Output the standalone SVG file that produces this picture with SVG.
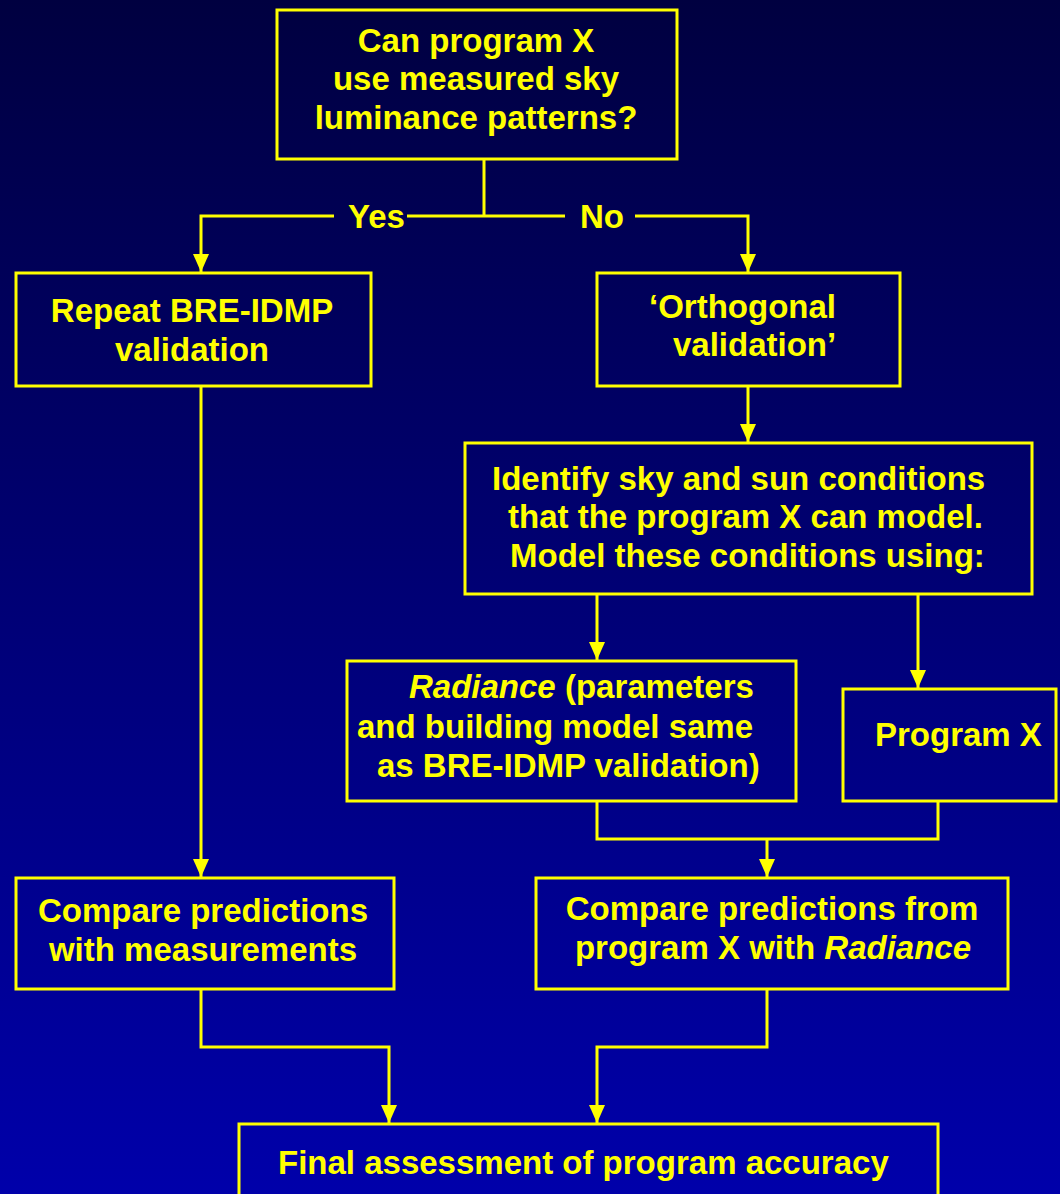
<svg xmlns="http://www.w3.org/2000/svg" width="1060" height="1194" viewBox="0 0 1060 1194">
  <defs>
    <linearGradient id="bg" x1="0" y1="0" x2="0" y2="1">
      <stop offset="0" stop-color="#000040"/>
      <stop offset="1" stop-color="#0000AA"/>
    </linearGradient>
    <marker id="arr" viewBox="0 0 18 16" refX="18" refY="8" markerWidth="18" markerHeight="16" orient="auto" markerUnits="userSpaceOnUse">
      <path d="M0,0 L18,8 L0,16 z" fill="#FFFF00"/>
    </marker>
    <style>
      .box { fill: none; stroke: #FFFF00; stroke-width: 3; }
      .t { font-family: "Liberation Sans", Arial, Helvetica, sans-serif; font-weight: bold; font-size: 33px; fill: #FFFF00; }
      .c { text-anchor: middle; }
      .i { font-style: italic; }
      .ln { fill: none; stroke: #FFFF00; stroke-width: 3; }
    </style>
  </defs>
  <rect x="0" y="0" width="1060" height="1194" fill="url(#bg)"/>

  <g id="connectors">
    <path class="ln" d="M484,159 L484,216"/>
    <path class="ln" d="M484,216 L407,216"/>
    <path class="ln" d="M334,216 L201,216 L201,272" marker-end="url(#arr)"/>
    <path class="ln" d="M484,216 L565,216"/>
    <path class="ln" d="M635,216 L748,216 L748,272" marker-end="url(#arr)"/>
    <text class="t" x="348" y="228">Yes</text>
    <text class="t" x="580" y="228">No</text>
    <path class="ln" d="M201,386 L201,877" marker-end="url(#arr)"/>
    <path class="ln" d="M748,386 L748,442" marker-end="url(#arr)"/>
    <path class="ln" d="M597,594 L597,660" marker-end="url(#arr)"/>
    <path class="ln" d="M918,594 L918,688" marker-end="url(#arr)"/>
    <path class="ln" d="M597,801 L597,839 L938,839 L938,801"/>
    <path class="ln" d="M767,839 L767,877" marker-end="url(#arr)"/>
    <path class="ln" d="M201,990 L201,1047 L389,1047 L389,1123" marker-end="url(#arr)"/>
    <path class="ln" d="M767,990 L767,1047 L597,1047 L597,1123" marker-end="url(#arr)"/>
  </g>

  <g id="question">
    <rect class="box" x="277" y="10" width="400" height="149"/>
    <text class="t c" x="476" y="52">Can program X</text>
    <text class="t c" x="476" y="90">use measured sky</text>
    <text class="t c" x="476" y="129">luminance patterns?</text>
  </g>

  <g id="repeat">
    <rect class="box" x="16" y="273" width="355" height="113"/>
    <text class="t c" x="192" y="322">Repeat BRE-IDMP</text>
    <text class="t c" x="192" y="361">validation</text>
  </g>

  <g id="orthogonal">
    <rect class="box" x="597" y="273" width="303" height="113"/>
    <text class="t" x="649" y="318">‘Orthogonal</text>
    <text class="t" x="673" y="356">validation’</text>
  </g>

  <g id="identify">
    <rect class="box" x="465" y="443" width="567" height="151"/>
    <text class="t" x="492" y="490">Identify sky and sun conditions</text>
    <text class="t" x="508" y="528">that the program X can model.</text>
    <text class="t" x="510" y="567">Model these conditions using:</text>
  </g>

  <g id="radiance">
    <rect class="box" x="347" y="661" width="449" height="140"/>
    <text class="t" x="409" y="698"><tspan class="i">Radiance</tspan> (parameters</text>
    <text class="t" x="357" y="738">and building model same</text>
    <text class="t" x="377" y="777">as BRE-IDMP validation)</text>
  </g>

  <g id="programx">
    <rect class="box" x="843" y="689" width="213" height="112"/>
    <text class="t" x="875" y="746">Program X</text>
  </g>

  <g id="compare-measurements">
    <rect class="box" x="16" y="878" width="378" height="111"/>
    <text class="t c" x="203" y="922">Compare predictions</text>
    <text class="t c" x="203" y="961">with measurements</text>
  </g>

  <g id="compare-radiance">
    <rect class="box" x="536" y="878" width="472" height="111"/>
    <text class="t c" x="772" y="920">Compare predictions from</text>
    <text class="t c" x="773" y="959">program X with <tspan class="i">Radiance</tspan></text>
  </g>

  <g id="final">
    <rect class="box" x="239" y="1124" width="699" height="100"/>
    <text class="t" x="278" y="1174">Final assessment of program accuracy</text>
  </g>
</svg>
